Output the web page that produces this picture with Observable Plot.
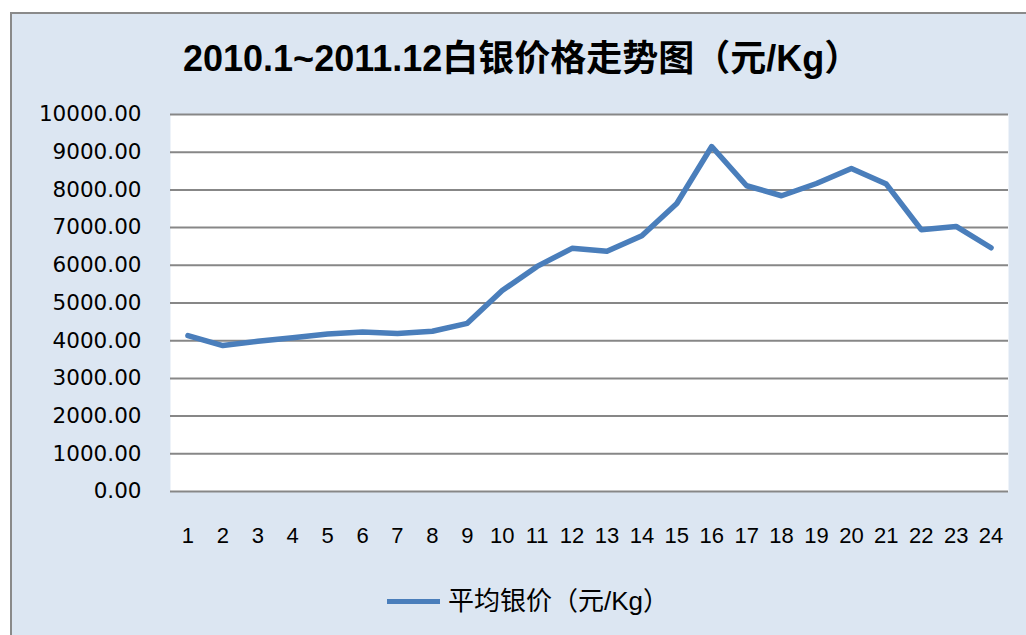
<!DOCTYPE html>
<html><head><meta charset="utf-8">
<script src="https://cdn.jsdelivr.net/npm/d3@7"></script>
<script src="https://cdn.jsdelivr.net/npm/@observablehq/plot@0.6"></script>
<style>
html,body{margin:0;padding:0;background:#fff;width:1026px;height:635px;overflow:hidden;}
#box{position:absolute;left:10px;top:12px;width:1030px;height:640px;background:#dce6f2;border-left:2px solid #8a8a8a;border-top:2px solid #8a8a8a;box-sizing:border-box;}
#title{position:absolute;left:183px;top:37px;font-family:"Liberation Sans","Noto Sans CJK SC",sans-serif;font-weight:bold;font-size:36px;line-height:44px;color:#000;white-space:nowrap;}
#chart{position:absolute;left:0;top:100px;}
#legend{position:absolute;left:387px;top:586px;font-family:"Liberation Sans","Noto Sans CJK SC",sans-serif;font-size:26px;line-height:30px;color:#000;display:flex;align-items:center;white-space:nowrap;}
#legend .sw{display:inline-block;width:53px;height:5px;background:#4a7ebb;margin-right:8px;}
</style></head>
<body>
<div id="box"></div>
<div id="title">2010.1~2011.12白银价格走势图（元/Kg）</div>
<div id="chart"></div>
<div id="legend"><span class="sw"></span><span>平均银价（元/Kg）</span></div>
<script>
const months = d3.range(1, 25);
const prices = [4135, 3870, 3985, 4080, 4180, 4230, 4190, 4250, 4460, 5330, 5970, 6450,
                6370, 6785, 7640, 9150, 8110, 7845, 8170, 8570, 8155, 6945, 7030, 6465];
const yTicks = d3.range(0, 10001, 1000);
const seriesName = "平均银价（元/Kg）";

const data = months.map((m, i) => ({month: m, price: prices[i]}));

const chart = Plot.plot({
  width: 1026,
  height: 460,
  marginLeft: 170,
  marginRight: 18,
  marginTop: 14,
  marginBottom: 69,
  style: {background: "transparent", overflow: "visible"},
  x: {type: "linear", domain: [0.5, 24.5], label: null},
  y: {domain: [0, 10000], ticks: yTicks, label: null},
  marks: [
    Plot.frame({fill: "white", stroke: null}),
    Plot.ruleY(yTicks, {stroke: "#878787", strokeWidth: 2}),
    Plot.axisY({ticks: yTicks, tickSize: 0, tickPadding: 29, tickFormat: d => d.toFixed(2),
      fontSize: 21.5, fontFamily: "DejaVu Sans", fill: "#000", label: null}),
    Plot.axisX({ticks: months, tickFormat: d => String(d), tickSize: 0, tickPadding: 36, fontSize: 22,
      fontFamily: "Liberation Sans, sans-serif", fill: "#000", label: null}),
    Plot.line(data, {x: "month", y: "price", stroke: "#4a7ebb", strokeWidth: 5.5, strokeLinejoin: "round"})
  ]
});
document.getElementById("chart").appendChild(chart);
</script>
</body></html>
